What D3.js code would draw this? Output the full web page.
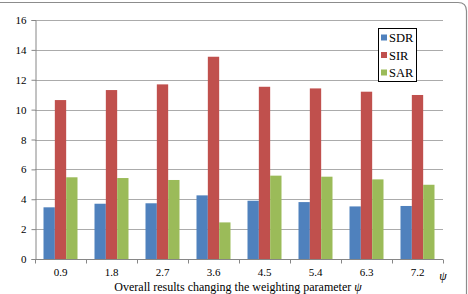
<!DOCTYPE html>
<html>
<head>
<meta charset="utf-8">
<script src="https://cdn.jsdelivr.net/npm/d3@7"></script>
<style>
  body { margin: 0; background: #fff; }
  svg text { font-family: "Liberation Serif", "Times New Roman", serif !important; fill: #000; }
</style>
</head>
<body>
<div id="chart"></div>
<script>
// data
var categories = ["0.9", "1.8", "2.7", "3.6", "4.5", "5.4", "6.3", "7.2"];
var seriesNames = ["SDR", "SIR", "SAR"];
var sdr = [3.46, 3.70, 3.73, 4.26, 3.90, 3.81, 3.52, 3.55];
var sir = [10.64, 11.31, 11.69, 13.54, 11.53, 11.42, 11.20, 10.98];
var sar = [5.47, 5.42, 5.29, 2.45, 5.58, 5.51, 5.33, 4.97];
var yTicks = [0, 2, 4, 6, 8, 10, 12, 14, 16];
var colors = ["#4f81bd", "#c0504d", "#9bbb59"];

var width = 468, height = 294;
var margin = {left: 35, right: 25, top: 20, bottom: 35};

var svg = d3.select("#chart")
    .append("svg")
    .attr("width", width)
    .attr("height", height);

// outer frame (top and right edges only visible)
svg.append("path")
    .attr("d", "M0,2.5 L458,2.5 Q466.5,2.5 466.5,11 L466.5," + height)
    .attr("fill", "none")
    .attr("stroke", "#8c8c8c")
    .attr("stroke-width", 1.2);

var xScale = d3.scaleBand()
    .domain(categories)
    .range([margin.left, width - margin.right]);

var inner = d3.scaleBand()
    .domain(seriesNames)
    .range([0, xScale.bandwidth()])
    .paddingInner(0)
    .paddingOuter(0.75);

var yScale = d3.scaleLinear()
    .domain([0, 16])
    .range([height - margin.bottom, margin.top]);

// gridlines
svg.append("g")
    .selectAll("line")
    .data(yTicks.slice(1))
    .enter()
    .append("line")
    .attr("x1", margin.left)
    .attr("x2", width - margin.right)
    .attr("y1", function(d) { return Math.round(yScale(d)) + 0.5; })
    .attr("y2", function(d) { return Math.round(yScale(d)) + 0.5; })
    .attr("stroke", "#ababab")
    .attr("stroke-width", 1);

// bars
var rows = categories.map(function(c, i) {
    return {cat: c, values: [sdr[i], sir[i], sar[i]]};
});

var groups = svg.append("g")
    .selectAll("g")
    .data(rows)
    .enter()
    .append("g")
    .attr("transform", function(d) { return "translate(" + xScale(d.cat) + ",0)"; });

groups.selectAll("rect")
    .data(function(d) { return d.values.map(function(v, k) { return {name: seriesNames[k], v: v, k: k}; }); })
    .enter()
    .append("rect")
    .attr("x", function(d) { return inner(d.name); })
    .attr("y", function(d) { return yScale(d.v); })
    .attr("width", inner.bandwidth())
    .attr("height", function(d) { return yScale(0) - yScale(d.v); })
    .attr("fill", function(d) { return colors[d.k]; });

// y axis
var yAxis = d3.axisLeft(yScale).tickValues(yTicks).tickSize(4).tickPadding(5);
var gy = svg.append("g")
    .attr("transform", "translate(" + (margin.left + 0.5) + ",0)")
    .call(yAxis)
    .attr("font-family", null);
gy.selectAll("text").style("font-size", "11px");
gy.select(".domain").attr("stroke", "#868686");
gy.selectAll(".tick line").attr("stroke", "#868686");

// x axis with ticks on category boundaries
var gx = svg.append("g")
    .attr("transform", "translate(0," + (Math.round(yScale(0)) + 0.5) + ")");
gx.append("line")
    .attr("x1", margin.left)
    .attr("x2", width - margin.right)
    .attr("stroke", "#868686");
gx.selectAll("line.tk")
    .data(categories.concat(["end"]))
    .enter()
    .append("line")
    .attr("class", "tk")
    .attr("x1", function(d, i) { return Math.round(margin.left + i * xScale.step()) + 0.5; })
    .attr("x2", function(d, i) { return Math.round(margin.left + i * xScale.step()) + 0.5; })
    .attr("y1", 0)
    .attr("y2", 4)
    .attr("stroke", "#868686");
gx.selectAll("text")
    .data(categories)
    .enter()
    .append("text")
    .attr("x", function(d) { return xScale(d) + xScale.bandwidth() / 2; })
    .attr("y", 16)
    .attr("text-anchor", "middle")
    .style("font-size", "11px")
    .text(function(d) { return d; });

// psi axis label
svg.append("text")
    .attr("x", 443)
    .attr("y", 280)
    .attr("text-anchor", "middle")
    .style("font-size", "12px")
    .style("font-style", "italic")
    .text("ψ");

// chart caption
var cap = svg.append("text")
    .attr("x", 238)
    .attr("y", 291)
    .attr("text-anchor", "middle")
    .style("font-size", "12px");
cap.append("tspan").text("Overall results changing the weighting parameter ");
cap.append("tspan").style("font-style", "italic").text("ψ");

// legend
var legend = svg.append("g").attr("transform", "translate(378,28)");
legend.append("rect")
    .attr("x", 0.5)
    .attr("y", 0.5)
    .attr("width", 38)
    .attr("height", 53)
    .attr("fill", "#fff")
    .attr("stroke", "#000")
    .attr("stroke-width", 1);
var items = legend.selectAll("g.item")
    .data(seriesNames)
    .enter()
    .append("g")
    .attr("class", "item")
    .attr("transform", function(d, i) { return "translate(3," + (9.5 + i * 17.5) + ")"; });
items.append("rect")
    .attr("x", 0)
    .attr("y", -3)
    .attr("width", 6)
    .attr("height", 6)
    .attr("fill", function(d, i) { return colors[i]; });
items.append("text")
    .attr("x", 8)
    .attr("y", 4.5)
    .style("font-size", "12.5px")
    .text(function(d) { return d; });
</script>
</body>
</html>
